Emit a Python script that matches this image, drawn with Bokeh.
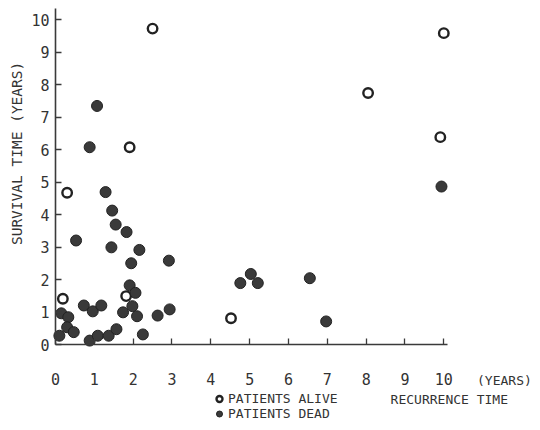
import math
from bokeh.plotting import figure
from bokeh.models import Range1d, FixedTicker, Label, Legend, LegendItem
from bokeh.embed import file_html
from bokeh.resources import INLINE

# Patients alive (open circles): recurrence time, survival time (years)
alive_x = [2.50, 1.91, 0.30, 0.19, 1.82, 4.52, 10.0, 9.91, 8.05]
alive_y = [9.72, 6.07, 4.67, 1.41, 1.49, 0.81, 9.58, 6.38, 7.74]

# Patients dead (filled circles)
dead_x = [9.94, 1.07, 0.88, 1.29, 1.46, 1.55, 1.83, 1.44, 2.16, 0.53,
          1.95, 2.92, 1.91, 2.06, 0.15, 0.33, 0.73, 0.96, 1.18, 1.74,
          1.98, 2.10, 2.63, 2.94, 0.30, 0.47, 0.10, 0.88, 1.09, 1.37,
          1.57, 2.25, 4.76, 5.03, 5.21, 6.55, 6.97]
dead_y = [4.86, 7.34, 6.07, 4.69, 4.12, 3.69, 3.46, 2.99, 2.91, 3.20,
          2.50, 2.58, 1.82, 1.59, 0.96, 0.84, 1.20, 1.02, 1.20, 0.99,
          1.18, 0.87, 0.89, 1.08, 0.53, 0.38, 0.27, 0.12, 0.27, 0.27,
          0.47, 0.31, 1.89, 2.17, 1.89, 2.04, 0.71]

x_ticks = list(range(0, 11))
y_ticks = list(range(0, 11))

INK = "#333333"
MONO = "DejaVu Sans Mono"

p = figure(width=532, height=422, output_backend="svg", toolbar_location=None,
           x_range=Range1d(-1.416, 12.284), y_range=Range1d(-2.4, 10.585),
           min_border=0)
p.outline_line_color = None
p.grid.visible = False
p.background_fill_color = "white"
p.border_fill_color = "white"

for ax in (p.xaxis[0], p.yaxis[0]):
    ax.fixed_location = 0
    ax.axis_line_color = "#3a3a3a"
    ax.axis_line_width = 1.6
    ax.major_tick_line_color = "#3a3a3a"
    ax.major_tick_line_width = 1.3
    ax.major_tick_in = 6
    ax.major_tick_out = 0
    ax.minor_tick_line_color = None
    ax.major_label_text_font = MONO
    ax.major_label_text_font_size = "15px"
    ax.major_label_text_color = INK

p.xaxis.bounds = (0, 10.1)
p.yaxis.bounds = (0, 10.34)
p.xaxis.ticker = FixedTicker(ticks=x_ticks)
p.yaxis.ticker = FixedTicker(ticks=y_ticks)
p.xaxis.major_label_standoff = 28
p.yaxis.major_label_standoff = 6

r_alive = p.scatter(alive_x, alive_y, size=9.5, marker="circle",
                    fill_color="white", line_color="#222222", line_width=2.4)
r_dead = p.scatter(dead_x, dead_y, size=11, marker="circle",
                   fill_color="#3a3a3a", line_color="#222222", line_width=1)

legend = Legend(items=[LegendItem(label="PATIENTS ALIVE", renderers=[r_alive]),
                       LegendItem(label="PATIENTS DEAD", renderers=[r_dead])],
                location=(210, 1), orientation="vertical",
                border_line_color=None, background_fill_alpha=0,
                padding=0, margin=0, spacing=0,
                glyph_width=18, glyph_height=15, label_height=15,
                label_standoff=0,
                label_text_font=MONO, label_text_font_size="13px",
                label_text_color=INK)
p.add_layout(legend)

p.add_layout(Label(x=-0.98, y=5.88, text="SURVIVAL TIME (YEARS)",
                   angle=math.pi / 2, text_align="center", text_baseline="middle",
                   text_font=MONO, text_font_size="14.5px", text_color=INK))
p.add_layout(Label(x=11.56, y=-1.11, text="(YEARS)",
                   text_align="center", text_baseline="middle",
                   text_font=MONO, text_font_size="13px", text_color=INK))
p.add_layout(Label(x=8.63, y=-1.68, text="RECURRENCE TIME",
                   text_align="left", text_baseline="middle",
                   text_font=MONO, text_font_size="13px", text_color=INK))

open("out.html", "w").write(file_html(p, INLINE))
